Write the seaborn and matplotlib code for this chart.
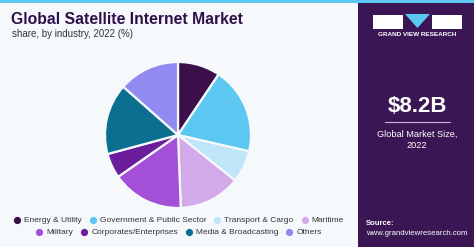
import numpy as np
import matplotlib
matplotlib.use("Agg")
import matplotlib.pyplot as plt
import seaborn as sns
from matplotlib.patches import Rectangle, Polygon
from matplotlib.colors import LinearSegmentedColormap

categories = ["Energy & Utility", "Government & Public Sector", "Transport & Cargo", "Maritime",
              "Military", "Corporates/Enterprises", "Media & Broadcasting", "Others"]
shares = [9.4, 19.2, 7.1, 13.7, 15.9, 5.5, 15.7, 13.5]
colors = ["#3a0f4a", "#5cc8f2", "#bfe6f8", "#d3a9ea", "#a34fd8", "#6b1d9c", "#0d6f8f", "#918af2"]

title = "Global Satellite Internet Market"
subtitle = "share, by industry, 2022 (%)"
market_size = "$8.2B"
market_label = "Global Market Size,\n2022"

sns.set_theme(style="white")
plt.rcParams['font.family'] = ['Liberation Sans', 'DejaVu Sans']

W, H = 474, 247
fig = plt.figure(figsize=(W / 100, H / 100), dpi=100)
bg = "#f5f9fc"
fig.patch.set_facecolor(bg)

def fx(x): return x / W
def fy(y): return 1 - y / H

# right panel
panel_x = 358
fig.patches.append(Rectangle((fx(panel_x), 0), 1 - fx(panel_x), 1, transform=fig.transFigure,
                             facecolor="#3a1754", edgecolor="none", zorder=0))
gax = fig.add_axes([fx(panel_x), 0, 1 - fx(panel_x), (H - 185) / H])
grad = np.linspace(0, 1, 100)[:, None]
cmap = LinearSegmentedColormap.from_list("g", ["#3a1754", "#3f3a78", "#4a6aa6", "#4f9ad0", "#55c0ee"])
gax.imshow(grad, aspect="auto", cmap=cmap, extent=[0, 1, 1, 0])
for v in np.linspace(0, 1, 30):
    gax.plot([0.5 + (v - 0.5) * 0.4, v * 2 - 0.5], [0.3, 1], color="white", alpha=0.07, lw=0.5)
for h in np.linspace(0.3, 1, 12):
    gax.plot([0, 1], [h, h], color="white", alpha=0.07, lw=0.5)
gax.set_xlim(0, 1); gax.set_ylim(1, 0)
gax.axis("off")

# top stripe
fig.patches.append(Rectangle((0, fy(3)), 1, 3 / H, transform=fig.transFigure,
                             facecolor="#5cc8f2", edgecolor="none", zorder=1))

# logo
fig.patches.append(Rectangle((fx(373), fy(29)), 30 / W, 14 / H, transform=fig.transFigure,
                             facecolor="white", edgecolor="none", zorder=2))
fig.patches.append(Rectangle((fx(432), fy(29)), 30 / W, 14 / H, transform=fig.transFigure,
                             facecolor="white", edgecolor="none", zorder=2))
fig.patches.append(Polygon([(fx(405), fy(14)), (fx(430), fy(14)), (fx(417.5), fy(28))],
                           closed=True, transform=fig.transFigure, facecolor="#5cc8f2",
                           edgecolor="none", zorder=2))
fig.text(fx(417), fy(35), "GRAND VIEW RESEARCH", color="white", fontsize=4.6, fontweight="bold",
         ha="center", va="center")

fig.text(fx(417), fy(107), market_size, color="white", fontsize=16, fontweight="bold",
         ha="center", va="center")
fig.lines.append(plt.Line2D([fx(385), fx(450)], [fy(122), fy(122)], transform=fig.transFigure,
                            color="#c9b8dc", lw=0.8))
fig.text(fx(417), fy(140), market_label, color="white", fontsize=6.6, ha="center", va="center",
         linespacing=1.25)
fig.text(fx(366), fy(223), "Source:", color="white", fontsize=5.6, fontweight="bold",
         ha="left", va="center")
fig.text(fx(366), fy(233), "www.grandviewresearch.com", color="white", fontsize=5.6,
         ha="left", va="center")

# titles
fig.text(fx(11), fy(20), title, color="#2e0f47", fontsize=11.3, fontweight="heavy",
         ha="left", va="center")
fig.text(fx(12), fy(34), subtitle, color="#333333", fontsize=7, ha="left", va="center")

# pie
cx, cy, r = 178, 135, 73
pax = fig.add_axes([fx(cx - r), fy(cy + r), 2 * r / W, 2 * r / H])
pax.pie(shares, colors=colors, startangle=90, counterclock=False, radius=1,
        wedgeprops=dict(edgecolor=bg, linewidth=1.6))
pax.set_xlim(-1, 1); pax.set_ylim(-1, 1)
pax.set_aspect("equal")
pax.axis("off")

# legend
renderer = fig.canvas.get_renderer()
def legend_row(items, y, center):
    fs = 6.0
    widths = []
    for name, _ in items:
        t = fig.text(0, 0, name, fontsize=fs)
        widths.append(t.get_window_extent(renderer=renderer).width)
        t.remove()
    total = sum(10 + w for w in widths) + 8 * (len(items) - 1)
    x = center - total / 2
    for (name, col), w in zip(items, widths):
        fig.lines.append(plt.Line2D([fx(x + 3)], [fy(y)], transform=fig.transFigure,
                                    marker="o", markersize=4.2, color=col, linestyle="none"))
        fig.text(fx(x + 10), fy(y), name, color="#333333", fontsize=fs, ha="left", va="center")
        x += 10 + w + 8

items = list(zip(categories, colors))
legend_row(items[:4], 220, 179)
legend_row(items[4:], 232, 179)

fig.savefig("out.png", dpi=100, facecolor=bg)
